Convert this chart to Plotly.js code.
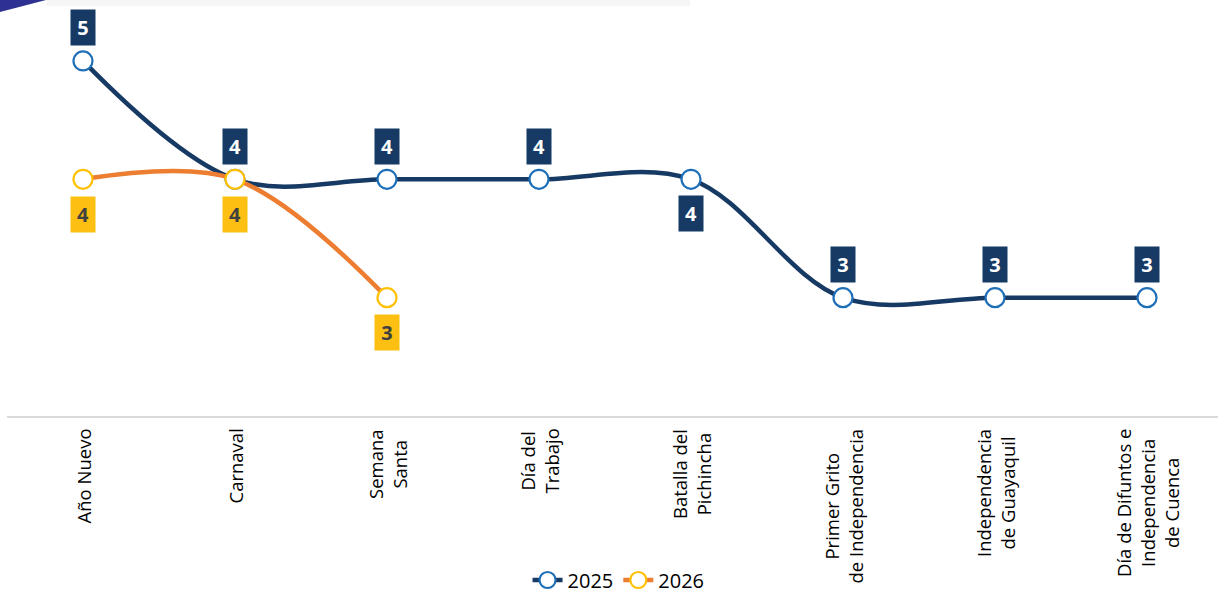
<!DOCTYPE html>
<html>
<head>
<meta charset="utf-8">
<script src="https://cdn.plot.ly/plotly-3.0.1.min.js"></script>
<style>html,body{margin:0;padding:0;background:#fff;}#chart{width:1218px;height:593px;}</style>
</head>
<body>
<div id="chart"></div>
<script>
// ---- data ----
const categories = ["Año Nuevo","Carnaval","Semana Santa","Día del Trabajo","Batalla del Pichincha","Primer Grito de Independencia","Independencia de Guayaquil","Día de Difuntos e Independencia de Cuenca"];
const tickLabels = ["Año Nuevo","Carnaval","Semana<br>Santa","Día del<br>Trabajo","Batalla del<br>Pichincha","Primer Grito<br>de Independencia","Independencia<br>de Guayaquil","Día de Difuntos e<br>Independencia<br>de Cuenca"];
const values2025 = [5,4,4,4,4,3,3,3];
const categories2026 = ["Año Nuevo","Carnaval","Semana Santa"];
const values2026 = [4,4,3];

// ---- styling ----
const W = 1218, H = 593, ML = 7, MB = 177;
const navy = "#173a64", blueRing = "#1f6fb8", orange = "#ed7d31", yellow = "#ffc000";
const below2025 = new Set(["Batalla del Pichincha"]);

const traces = [
  {x: categories, y: values2025, name: "2025", type: "scatter", mode: "lines+markers",
   line: {color: navy, width: 4.5, shape: "spline", smoothing: 1},
   marker: {symbol: "circle", size: 19, color: "#ffffff", line: {color: blueRing, width: 2.2}},
   hoverinfo: "skip"},
  {x: categories2026, y: values2026, name: "2026", type: "scatter", mode: "lines+markers",
   line: {color: orange, width: 4.5, shape: "spline", smoothing: 1},
   marker: {symbol: "circle", size: 19, color: "#ffffff", line: {color: yellow, width: 2.2}},
   hoverinfo: "skip"}
];

const annotations = [];
categories.forEach((c, i) => {
  annotations.push({x: c, y: values2025[i], xref: "x", yref: "y", text: String(values2025[i]),
    showarrow: false, yshift: below2025.has(c) ? -34 : 33, bgcolor: navy, width: 16, height: 27, borderpad: 4,
    font: {family: "Open Sans, sans-serif", size: 20, color: "#ffffff", weight: "bold"}});
});
categories2026.forEach((c, i) => {
  annotations.push({x: c, y: values2026[i], xref: "x", yref: "y", text: String(values2026[i]),
    showarrow: false, yshift: -35, bgcolor: "#fcbf12", width: 16, height: 27, borderpad: 4,
    font: {family: "Open Sans, sans-serif", size: 20, color: "#404040", weight: "bold"}});
});
categories.forEach((c, i) => {
  annotations.push({x: c, y: 0, xref: "x", yref: "paper", text: tickLabels[i], textangle: -90,
    showarrow: false, xanchor: "center", yanchor: "top", yshift: -11, align: "center",
    font: {family: "Open Sans, sans-serif", size: 18.5, color: "#000000"}});
});

const plotW = W - ML, plotH = H - MB;
const px = v => (v - ML) / plotW, py = v => 1 - v / plotH;

const layout = {
  width: W, height: H,
  margin: {l: ML, r: 0, t: 0, b: MB, pad: 0, autoexpand: false},
  paper_bgcolor: "#ffffff", plot_bgcolor: "#ffffff",
  showlegend: true,
  legend: {orientation: "h", x: 0.505, xanchor: "center", y: py(580), yanchor: "middle",
    font: {family: "Open Sans, sans-serif", size: 20, color: "#000000"}, itemwidth: 30, tracegroupgap: 0},
  xaxis: {type: "category", categoryorder: "array", categoryarray: categories, range: [-0.5, 7.467],
    showticklabels: false, ticks: "", showgrid: false, zeroline: false, automargin: false,
    showline: true, linecolor: "#d9d9d9", linewidth: 2, fixedrange: true},
  yaxis: {range: [2, 5.515], visible: false, showgrid: false, zeroline: false, automargin: false, fixedrange: true},
  annotations: annotations,
  shapes: [
    {type: "path", xref: "paper", yref: "paper", path: `M ${px(0)} ${py(0)} L ${px(46)} ${py(0)} L ${px(0)} ${py(12)} Z`,
     fillcolor: "#2e3192", line: {width: 0}, layer: "above"},
    {type: "rect", xref: "paper", yref: "paper", x0: px(46), x1: px(690), y0: py(6), y1: py(0),
     fillcolor: "#f6f6f6", line: {width: 0}, layer: "below"}
  ]
};

Plotly.newPlot("chart", traces, layout, {displayModeBar: false, staticPlot: true});
</script>
</body>
</html>
